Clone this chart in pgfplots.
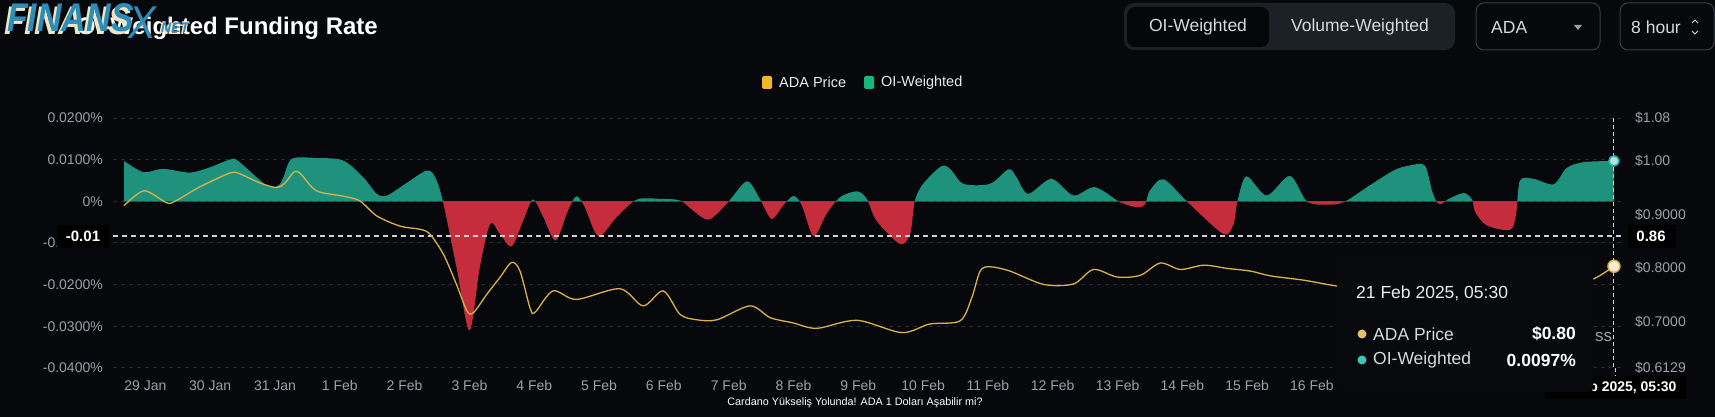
\documentclass[border=0pt]{standalone}
\usepackage{pgfplots}
\pgfplotsset{compat=1.18}
\usepackage{pgfplotstable}
\usepackage{fontspec}
\setmainfont{Liberation Sans}
\definecolor{bg}{HTML}{07080C}
\definecolor{gridc}{HTML}{262A31}
\definecolor{tickc}{HTML}{9CA1A8}
\definecolor{upc}{HTML}{1F927D}
\definecolor{downc}{HTML}{C52D3C}
\definecolor{pricec}{HTML}{D8B24C}
\definecolor{legor}{HTML}{F0B42E}
\definecolor{leggr}{HTML}{14B87A}
\definecolor{wm}{HTML}{2C8DB8}
\definecolor{wmsh}{HTML}{EEE7C6}
\definecolor{btngrp}{HTML}{1C2027}
\definecolor{btnsel}{HTML}{050609}
\definecolor{btntxt}{HTML}{D6D9DE}
\definecolor{boxbd}{HTML}{383D45}
\definecolor{cross}{HTML}{CFCFCF}
\definecolor{tipbg}{HTML}{08090D}
\newcommand{\fs}[1]{\fontsize{#1}{#1}\selectfont}

\pgfplotstableread{
d f
-0.33 0.0097
-0.03 0.0070
0.27 0.0078
0.69 0.0069
1.00 0.0082
1.30 0.0100
1.43 0.0097
1.87 0.0038
2.05 0.0038
2.13 0.0058
2.26 0.0102
2.64 0.0104
3.05 0.0098
3.36 0.0058
3.57 0.0018
3.73 0.0014
4.03 0.0044
4.34 0.0074
4.47 0.0058
4.59 0.0000
4.80 -0.0158
5.00 -0.0310
5.16 -0.0158
5.32 -0.0054
5.47 -0.0078
5.65 -0.0108
5.83 -0.0046
5.98 0.0004
6.14 -0.0038
6.33 -0.0094
6.52 -0.0022
6.65 0.0012
6.78 -0.0014
6.99 -0.0084
7.27 -0.0038
7.58 0.0004
7.94 0.0006
8.25 0.0002
8.45 -0.0022
8.69 -0.0044
8.97 -0.0006
9.28 0.0048
9.48 0.0006
9.66 -0.0042
9.84 -0.0010
10.00 0.0013
10.13 -0.0010
10.31 -0.0084
10.51 -0.0030
10.72 0.0010
10.98 0.0024
11.13 0.0006
11.28 -0.0046
11.64 -0.0102
11.80 -0.0078
11.87 0.0000
12.00 0.0042
12.29 0.0085
12.44 0.0074
12.62 0.0042
13.03 0.0042
13.32 0.0077
13.44 0.0058
13.62 0.0018
13.98 0.0054
14.32 0.0014
14.65 0.0034
15.04 -0.0002
15.30 -0.0014
15.42 -0.0008
15.50 0.0026
15.71 0.0053
16.07 0.0000
16.63 -0.0078
16.79 -0.0054
16.85 0.0000
16.99 0.0060
17.30 0.0014
17.66 0.0061
17.92 0.0000
18.23 -0.0008
18.49 -0.0002
18.85 0.0034
19.26 0.0074
19.51 0.0086
19.74 0.0086
19.85 0.0026
19.93 -0.0003
20.00 -0.0006
20.10 0.0005
20.34 0.0020
20.47 0.0004
20.52 -0.0026
20.70 -0.0058
21.06 -0.0068
21.15 -0.0030
21.21 0.0050
21.42 0.0054
21.73 0.0041
21.93 0.0080
22.19 0.0094
22.66 0.0097
}\fund

\pgfplotstableread{
d p
-0.33 0.916
-0.02 0.944
0.32 0.922
0.45 0.924
0.82 0.950
1.30 0.977
1.45 0.976
1.76 0.959
2.02 0.950
2.15 0.958
2.30 0.980
2.40 0.975
2.64 0.944
3.05 0.934
3.31 0.925
3.57 0.897
3.93 0.878
4.24 0.872
4.39 0.863
4.60 0.825
4.80 0.769
4.96 0.720
5.06 0.716
5.27 0.751
5.47 0.782
5.65 0.810
5.78 0.794
5.94 0.723
6.02 0.718
6.29 0.757
6.65 0.741
7.32 0.761
7.68 0.729
7.99 0.757
8.25 0.713
8.51 0.703
8.82 0.703
9.33 0.729
9.64 0.707
10.00 0.697
10.36 0.687
10.98 0.702
11.67 0.679
12.10 0.695
12.57 0.701
12.75 0.744
12.88 0.794
13.03 0.802
13.34 0.794
13.86 0.769
14.32 0.770
14.63 0.797
14.99 0.783
15.35 0.786
15.66 0.809
15.97 0.797
16.33 0.805
16.69 0.799
17.05 0.794
17.36 0.785
17.87 0.777
18.28 0.768
18.45 0.765
}\priceA

\pgfplotstableread{
d p
22.34 0.779
22.45 0.786
22.55 0.794
22.66 0.803
}\priceB

\begin{document}
\begin{tikzpicture}[x=1pt,y=1pt]
\fill[bg] (0,0) rectangle (1715,417);

% title and watermark
\node[anchor=base east, inner sep=0, text=white, font=\fs{24}\bfseries] at (378,382) {OI-Weighted Funding Rate};
\node[anchor=base west, inner sep=0, text=wmsh, font=\fs{40}\bfseries\itshape, xscale=0.85] at (4,382) {FINANS};
\node[anchor=base west, inner sep=0, text=wm, font=\fs{40}\bfseries\itshape, xscale=0.85] at (7,385) {FINANS};
\node[anchor=base west, inner sep=0, text=wm, font=\fs{46}\itshape, xscale=0.9] at (128,378) {X};
\node[anchor=base west, inner sep=0, text=wmsh, font=\fs{14}\bfseries\itshape] at (159,382) {NET};
\node[anchor=base west, inner sep=0, text=wm, font=\fs{14}\bfseries\itshape] at (161,384) {NET};

% buttons
\fill[btngrp, rounded corners=10pt] (1124,367) rectangle (1455,414);
\fill[btnsel, rounded corners=8pt] (1127,370) rectangle (1269,410);
\node[text=btntxt, font=\fs{17.5}, inner sep=0] at (1198,390) {OI-Weighted};
\node[text=btntxt, font=\fs{17.5}, inner sep=0] at (1360,390) {Volume-Weighted};
\draw[boxbd, line width=1pt, rounded corners=8pt] (1476,367) rectangle (1600,414);
\node[anchor=west, text=btntxt, font=\fs{17.5}, inner sep=0] at (1491,390) {ADA};
\fill[tickc] (1574,392) -- (1582,392) -- (1578,387) -- cycle;
\draw[boxbd, line width=1pt, rounded corners=8pt] (1620,367) rectangle (1714,414);
\node[anchor=west, text=btntxt, font=\fs{17.5}, inner sep=0] at (1631,390) {8 hour};
\draw[btntxt, line width=1pt] (1692,394) -- (1695,397) -- (1698,394);
\draw[btntxt, line width=1pt] (1692,386) -- (1695,383) -- (1698,386);

% legend
\fill[legor, rounded corners=1.5pt] (762,328) rectangle (772,341);
\node[anchor=west, inner sep=0, text=white!92!black, font=\fs{14.5}] at (779,334.5) {ADA Price};
\fill[leggr, rounded corners=1.5pt] (864,328) rectangle (874,341);
\node[anchor=west, inner sep=0, text=white!92!black, font=\fs{14.5}] at (881,334.5) {OI-Weighted};

% funding rate axis
\begin{axis}[
  at={(113pt,49pt)}, anchor=south west, scale only axis,
  width=1512pt, height=250pt,
  xmin=-0.5, xmax=22.83, ymin=-0.04, ymax=0.02,
  scaled y ticks=false,
  axis line style={draw=none}, major tick length=0pt, tick style={draw=none},
  ytick={-0.04,-0.03,-0.02,-0.01,0,0.01,0.02},
  yticklabels={-0.0400\%,-0.0300\%,-0.0200\%,-0.0100\%,0\%,0.0100\%,0.0200\%},
  xtick={0,...,18},
  xticklabels={29 Jan,30 Jan,31 Jan,1 Feb,2 Feb,3 Feb,4 Feb,5 Feb,6 Feb,7 Feb,8 Feb,9 Feb,10 Feb,11 Feb,12 Feb,13 Feb,14 Feb,15 Feb,16 Feb},
  ymajorgrids, grid style={gridc, dash pattern=on 4pt off 4pt, line width=1pt},
  yticklabel style={font=\fs{14}, text=tickc, anchor=east, inner sep=0pt, xshift=-10pt},
  xticklabel style={font=\fs{14}, text=tickc, anchor=base, inner sep=0pt, yshift=-23pt},
]
\begin{scope}
\clip (axis cs:-1,0) rectangle (axis cs:24,0.05);
\addplot[smooth, draw=none, fill=upc] table[x=d,y=f] {\fund} \closedcycle;
\end{scope}
\begin{scope}
\clip (axis cs:-1,0) rectangle (axis cs:24,-0.05);
\addplot[smooth, draw=none, fill=downc] table[x=d,y=f] {\fund} \closedcycle;
\end{scope}
\draw[cross, line width=1.2pt, dash pattern=on 5pt off 4pt] (axis cs:-0.5,-0.00833) -- (axis cs:22.83,-0.00833);
\draw[cross, line width=1pt, dash pattern=on 4pt off 3pt] (axis cs:22.66,0.02) -- (axis cs:22.66,-0.04);
\addplot[only marks, mark=*, mark size=5pt, mark options={fill=white!70!upc, draw=upc!60!cyan, line width=1.5pt}] coordinates {(22.66,0.0097)};
\end{axis}

% price axis
\begin{axis}[
  at={(113pt,49pt)}, anchor=south west, scale only axis,
  width=1512pt, height=250pt,
  xmin=-0.5, xmax=22.83, ymin=0.6129, ymax=1.08,
  scaled y ticks=false,
  axis line style={draw=none}, major tick length=0pt, tick style={draw=none},
  xtick=\empty, yticklabel pos=right,
  ytick={0.6129,0.7,0.8,0.9,1.0,1.08},
  yticklabels={\$0.6129,\$0.7000,\$0.8000,\$0.9000,\$1.00,\$1.08},
  yticklabel style={font=\fs{14}, text=tickc, anchor=west, inner sep=0pt, xshift=10pt},
]
\addplot[smooth, pricec, line width=1.3pt] table[x=d,y=p] {\priceA};
\addplot[smooth, pricec, line width=1.3pt] table[x=d,y=p] {\priceB};
\addplot[only marks, mark=*, mark size=6pt, mark options={fill=white!75!pricec, draw=pricec, line width=1.5pt}] coordinates {(22.66,0.803)};
\end{axis}

% crosshair labels
\draw[cross, line width=1pt, dash pattern=on 4pt off 3pt] (1615,49) -- (1615,41);
\fill[black] (57,169) rectangle (109,192);
\node[text=white, font=\fs{15}\bfseries, inner sep=0] at (83,180.5) {-0.01};
\fill[black] (1628,169) rectangle (1676,192);
\node[text=white, font=\fs{15}\bfseries, inner sep=0] at (1651,180.5) {0.86};
\fill[black] (1545,18) rectangle (1686,41);
\node[text=white, font=\fs{14}\bfseries, inner sep=0] at (1615,29.5) {21 Feb 2025, 05:30};

% tooltip
\fill[tipbg, rounded corners=4pt] (1337,25) rectangle (1593,160);
\node[anchor=west, text=white!92!black, font=\fs{17.5}, inner sep=0] at (1356,124) {21 Feb 2025, 05:30};
\fill[pricec!80!white] (1362,83) circle (4.5);
\node[anchor=west, text=btntxt, font=\fs{17.5}, inner sep=0] at (1373,83) {ADA Price};
\node[anchor=east, text=white, font=\fs{17.5}\bfseries, inner sep=0] at (1576,83) {\$0.80};
\fill[upc!70!cyan!80!white] (1362,57) circle (4.5);
\node[anchor=west, text=btntxt, font=\fs{17.5}, inner sep=0] at (1373,57) {OI-Weighted};
\node[anchor=east, text=white, font=\fs{17.5}\bfseries, inner sep=0] at (1576,57) {0.0097\%};
\node[anchor=west, text=tickc, font=\fs{17}, inner sep=0] at (1595,80) {ss};

% caption
\node[text=white, font=\fs{10.8}, inner sep=0] at (855,14) {Cardano Yükseliş Yolunda! ADA 1 Doları Aşabilir mi?};

\pgfresetboundingbox
\useasboundingbox (0,0) rectangle (1715,417);
\end{tikzpicture}
\end{document}
